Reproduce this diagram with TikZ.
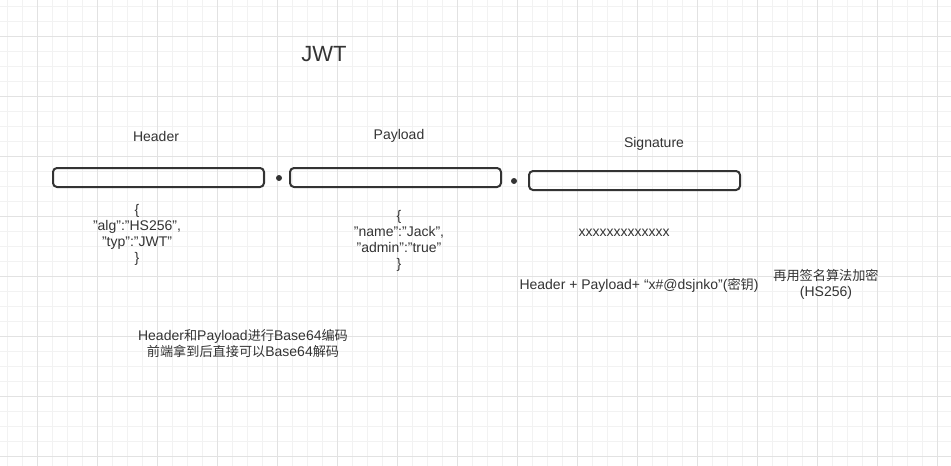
\documentclass[tikz,border=0pt]{standalone}
\usepackage{fontspec}
\setmainfont{Liberation Sans}
\newfontfamily\cjk[Scale=0.94]{Noto Sans CJK SC}
\usetikzlibrary{positioning}
\definecolor{gridminor}{RGB}{242,242,242}
\definecolor{gridmajor}{RGB}{226,226,226}
\definecolor{ink}{RGB}{51,51,51}

\begin{document}
\begin{tikzpicture}[x=1pt,y=-1pt,
  seg/.style={draw=ink,line width=2pt,rounded corners=4pt,minimum width=211pt,minimum height=19pt,inner sep=0pt},
  sep dot/.style={circle,fill=ink,minimum size=6pt,inner sep=0pt},
  lbl/.style={text=ink,font=\fontsize{14}{16}\selectfont,align=center,inner sep=0pt,yshift=-2pt}]
  \useasboundingbox (0,0) rectangle (951,466);
  % grid paper
  \foreach \gx in {7,22,...,951} \draw[gridminor,line width=1pt] (\gx,0) -- (\gx,466);
  \foreach \gy in {6,21,...,466} \draw[gridminor,line width=1pt] (0,\gy) -- (951,\gy);
  \foreach \gx in {37,97,...,951} \draw[gridmajor,line width=1pt] (\gx,0) -- (\gx,466);
  \foreach \gy in {36,96,...,466} \draw[gridmajor,line width=1pt] (0,\gy) -- (951,\gy);

  \node[lbl,font=\fontsize{22}{24}\selectfont] (title) at (324,52) {JWT};

  \node[seg] (hdr) at (158.5,177.5) {};
  \node[sep dot] (dot1) at (279,178) {};
  \node[seg] (pld) at (395.5,177.5) {};
  \node[sep dot] (dot2) at (514,181) {};
  \node[seg] (sig) at (634.5,180.5) {};

  \node[lbl] (hdrname) at (156,134) {Header};
  \node[lbl] (pldname) at (399,134) {Payload};
  \node[lbl] (signame) at (654,142) {Signature};

  \node[lbl] (hdrjson) at (137,233) {\{\\"alg":"HS256",\\"typ":"JWT"\\\}};
  \node[lbl] (pldjson) at (399,239) {\{\\"name":"Jack",\\"admin":"true"\\\}};

  \node[lbl] (sigval) at (624,231) {xxxxxxxxxxxxx};
  \node[lbl] (sigsrc) at (639,283) {Header + Payload+ “x\#@dsjnko”({\cjk 密钥})};
  \node[lbl] (sigalg) at (826,282) {{\cjk 再用签名算法加密}\\(HS256)};

  \node[lbl] (b64) at (243,341) {Header{\cjk 和}Payload{\cjk 进行}Base64{\cjk 编码}\\{\cjk 前端拿到后直接可以}Base64{\cjk 解码}};
\end{tikzpicture}
\end{document}
